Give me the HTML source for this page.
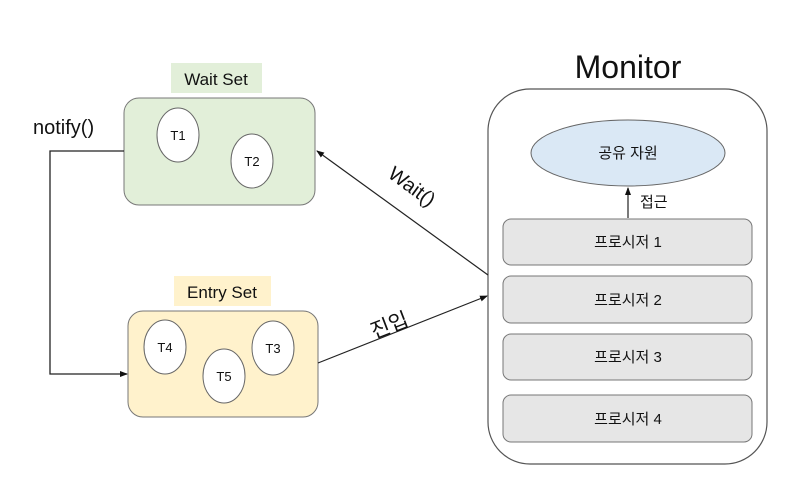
<!DOCTYPE html>
<html><head><meta charset="utf-8"><style>
html,body{margin:0;padding:0;background:#fff;width:804px;height:493px;overflow:hidden}
svg text{font-family:"Liberation Sans","Noto Sans CJK KR",sans-serif;fill:#111}
</style></head><body>
<svg width="804" height="493" viewBox="0 0 804 493" xmlns="http://www.w3.org/2000/svg">
<defs><marker id="a" markerWidth="8" markerHeight="8" refX="7" refY="4" orient="auto" markerUnits="userSpaceOnUse"><path d="M0,1 L8,4 L0,7 z" fill="#111"/></marker></defs>
<text x="628" y="78" font-size="32" text-anchor="middle">Monitor</text>
<rect x="488" y="89" width="279" height="375" rx="42" fill="#fff" stroke="#555" stroke-width="1.2"/>
<ellipse cx="628" cy="153" rx="97" ry="33" fill="#dae8f5" stroke="#666"/>
<text x="628" y="158" font-size="15" text-anchor="middle">공유 자원</text>
<line x1="628" y1="218" x2="628" y2="188" stroke="#333" stroke-width="1.3" marker-end="url(#a)"/>
<text x="640" y="207" font-size="15">접근</text>
<g fill="#e6e6e6" stroke="#777">
<rect x="503" y="219" width="249" height="46" rx="8"/>
<rect x="503" y="276" width="249" height="47" rx="8"/>
<rect x="503" y="334" width="249" height="46" rx="8"/>
<rect x="503" y="395" width="249" height="47" rx="8"/>
</g>
<g font-size="15" text-anchor="middle">
<text x="628" y="247">프로시저 1</text>
<text x="628" y="305">프로시저 2</text>
<text x="628" y="362">프로시저 3</text>
<text x="628" y="424">프로시저 4</text>
</g>
<rect x="171" y="63" width="91" height="30" fill="#e2efd9"/>
<text x="216" y="85" font-size="17" text-anchor="middle">Wait Set</text>
<rect x="124" y="98" width="191" height="107" rx="15" fill="#e2efd9" stroke="#777"/>
<ellipse cx="178" cy="135" rx="21" ry="27" fill="#fff" stroke="#666"/>
<ellipse cx="252" cy="161" rx="21" ry="27" fill="#fff" stroke="#666"/>
<text x="178" y="140" font-size="13" text-anchor="middle">T1</text>
<text x="252" y="166" font-size="13" text-anchor="middle">T2</text>
<rect x="174" y="276" width="97" height="30" fill="#fff2cc"/>
<text x="222" y="298" font-size="17" text-anchor="middle">Entry Set</text>
<rect x="128" y="311" width="190" height="106" rx="15" fill="#fff2cc" stroke="#777"/>
<ellipse cx="165" cy="347" rx="21" ry="27" fill="#fff" stroke="#666"/>
<ellipse cx="224" cy="376" rx="21" ry="27" fill="#fff" stroke="#666"/>
<ellipse cx="273" cy="348" rx="21" ry="27" fill="#fff" stroke="#666"/>
<text x="165" y="352" font-size="13" text-anchor="middle">T4</text>
<text x="224" y="381" font-size="13" text-anchor="middle">T5</text>
<text x="273" y="353" font-size="13" text-anchor="middle">T3</text>
<text x="33" y="134" font-size="20">notify()</text>
<polyline points="124,151 50,151 50,374 127,374" fill="none" stroke="#222" stroke-width="1.3" marker-end="url(#a)"/>
<line x1="488" y1="275" x2="317" y2="151" stroke="#222" stroke-width="1.2" marker-end="url(#a)"/>
<text x="0" y="0" font-size="20" text-anchor="middle" transform="translate(408,192) rotate(36)">Wait()</text>
<line x1="318" y1="363" x2="487" y2="296" stroke="#222" stroke-width="1.2" marker-end="url(#a)"/>
<text x="0" y="0" font-size="21" text-anchor="middle" transform="translate(392,332) rotate(-21)">진입</text>
</svg>
</body></html>
